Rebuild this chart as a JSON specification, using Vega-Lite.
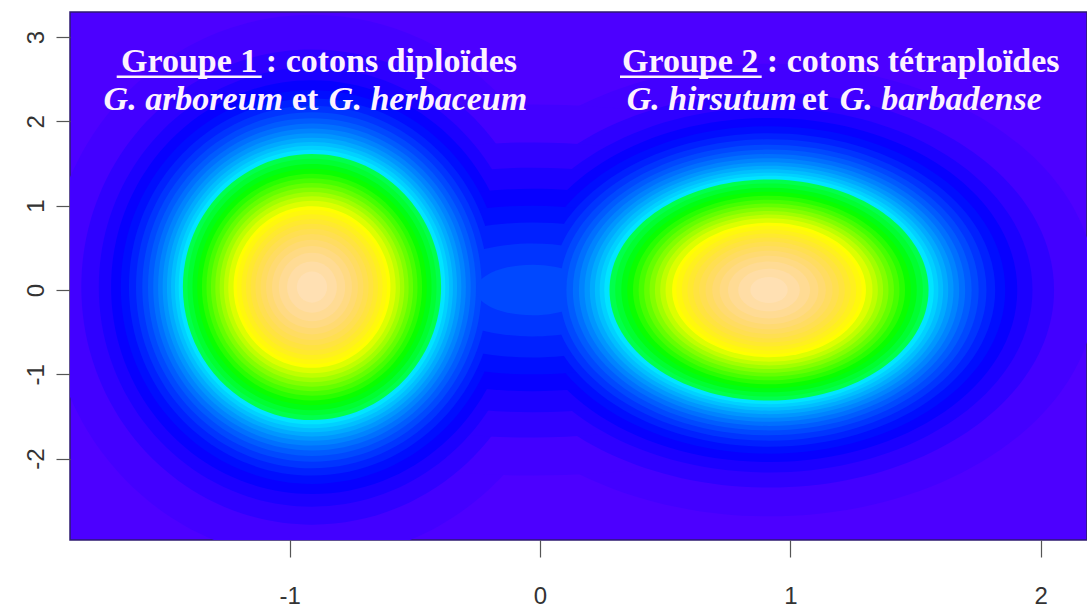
{
  "$schema": "https://vega.github.io/schema/vega-lite/v6.json",
  "width": 1017,
  "height": 528,
  "autosize": "none",
  "padding": {"left": 70, "top": 12, "right": 0, "bottom": 70},
  "background": "#ffffff",
  "view": {"fill": "#4C00FF", "stroke": "#2e1a70", "strokeWidth": 1.5},
  "datasets": {
    "niveaux": [
      {"groupe": "Groupe 1", "x": -0.911, "y": 0.035, "densite": 0.01, "demi_largeur": 1.0561},
      {"groupe": "Groupe 2", "x": 0.915, "y": 0.0, "densite": 0.01, "demi_largeur": 1.3050},
      {"groupe": "Col", "x": -0.03, "y": 0.0, "densite": 0.01, "demi_largeur": 1.647},
      {"groupe": "Groupe 1", "x": -0.911, "y": 0.035, "densite": 0.03, "demi_largeur": 0.9216},
      {"groupe": "Groupe 2", "x": 0.915, "y": 0.0, "densite": 0.03, "demi_largeur": 1.1387},
      {"groupe": "Col", "x": -0.03, "y": 0.0, "densite": 0.03, "demi_largeur": 1.310},
      {"groupe": "Groupe 1", "x": -0.911, "y": 0.035, "densite": 0.05, "demi_largeur": 0.8518},
      {"groupe": "Groupe 2", "x": 0.915, "y": 0.0, "densite": 0.05, "demi_largeur": 1.0525},
      {"groupe": "Col", "x": -0.03, "y": 0.0, "densite": 0.05, "demi_largeur": 1.085},
      {"groupe": "Groupe 1", "x": -0.911, "y": 0.035, "densite": 0.07, "demi_largeur": 0.8026},
      {"groupe": "Groupe 2", "x": 0.915, "y": 0.0, "densite": 0.07, "demi_largeur": 0.9917},
      {"groupe": "Col", "x": -0.03, "y": 0.0, "densite": 0.07, "demi_largeur": 0.898},
      {"groupe": "Groupe 1", "x": -0.911, "y": 0.035, "densite": 0.09, "demi_largeur": 0.7637},
      {"groupe": "Groupe 2", "x": 0.915, "y": 0.0, "densite": 0.09, "demi_largeur": 0.9436},
      {"groupe": "Col", "x": -0.03, "y": 0.0, "densite": 0.09, "demi_largeur": 0.749},
      {"groupe": "Groupe 1", "x": -0.911, "y": 0.035, "densite": 0.11, "demi_largeur": 0.7312},
      {"groupe": "Groupe 2", "x": 0.915, "y": 0.0, "densite": 0.11, "demi_largeur": 0.9035},
      {"groupe": "Col", "x": -0.03, "y": 0.0, "densite": 0.11, "demi_largeur": 0.599},
      {"groupe": "Groupe 1", "x": -0.911, "y": 0.035, "densite": 0.13, "demi_largeur": 0.7030},
      {"groupe": "Groupe 2", "x": 0.915, "y": 0.0, "densite": 0.13, "demi_largeur": 0.8686},
      {"groupe": "Col", "x": -0.03, "y": 0.0, "densite": 0.13, "demi_largeur": 0.412},
      {"groupe": "Groupe 1", "x": -0.911, "y": 0.035, "densite": 0.15, "demi_largeur": 0.6779},
      {"groupe": "Groupe 2", "x": 0.915, "y": 0.0, "densite": 0.15, "demi_largeur": 0.8376},
      {"groupe": "Col", "x": -0.03, "y": 0.0, "densite": 0.15, "demi_largeur": 0.225},
      {"groupe": "Groupe 1", "x": -0.911, "y": 0.035, "densite": 0.17, "demi_largeur": 0.6551},
      {"groupe": "Groupe 2", "x": 0.915, "y": 0.0, "densite": 0.17, "demi_largeur": 0.8095},
      {"groupe": "Groupe 1", "x": -0.911, "y": 0.035, "densite": 0.19, "demi_largeur": 0.6342},
      {"groupe": "Groupe 2", "x": 0.915, "y": 0.0, "densite": 0.19, "demi_largeur": 0.7837},
      {"groupe": "Groupe 1", "x": -0.911, "y": 0.035, "densite": 0.21, "demi_largeur": 0.6148},
      {"groupe": "Groupe 2", "x": 0.915, "y": 0.0, "densite": 0.21, "demi_largeur": 0.7597},
      {"groupe": "Groupe 1", "x": -0.911, "y": 0.035, "densite": 0.23, "demi_largeur": 0.5966},
      {"groupe": "Groupe 2", "x": 0.915, "y": 0.0, "densite": 0.23, "demi_largeur": 0.7372},
      {"groupe": "Groupe 1", "x": -0.911, "y": 0.035, "densite": 0.25, "demi_largeur": 0.5795},
      {"groupe": "Groupe 2", "x": 0.915, "y": 0.0, "densite": 0.25, "demi_largeur": 0.7160},
      {"groupe": "Groupe 1", "x": -0.911, "y": 0.035, "densite": 0.27, "demi_largeur": 0.5631},
      {"groupe": "Groupe 2", "x": 0.915, "y": 0.0, "densite": 0.27, "demi_largeur": 0.6958},
      {"groupe": "Groupe 1", "x": -0.911, "y": 0.035, "densite": 0.29, "demi_largeur": 0.5476},
      {"groupe": "Groupe 2", "x": 0.915, "y": 0.0, "densite": 0.29, "demi_largeur": 0.6766},
      {"groupe": "Groupe 1", "x": -0.911, "y": 0.035, "densite": 0.31, "demi_largeur": 0.5326},
      {"groupe": "Groupe 2", "x": 0.915, "y": 0.0, "densite": 0.31, "demi_largeur": 0.6581},
      {"groupe": "Groupe 1", "x": -0.911, "y": 0.035, "densite": 0.3334, "demi_largeur": 0.5158},
      {"groupe": "Groupe 2", "x": 0.915, "y": 0.0, "densite": 0.3334, "demi_largeur": 0.6373},
      {"groupe": "Groupe 1", "x": -0.911, "y": 0.035, "densite": 0.36, "demi_largeur": 0.4974},
      {"groupe": "Groupe 2", "x": 0.915, "y": 0.0, "densite": 0.36, "demi_largeur": 0.6146},
      {"groupe": "Groupe 1", "x": -0.911, "y": 0.035, "densite": 0.39, "demi_largeur": 0.4776},
      {"groupe": "Groupe 2", "x": 0.915, "y": 0.0, "densite": 0.39, "demi_largeur": 0.5901},
      {"groupe": "Groupe 1", "x": -0.911, "y": 0.035, "densite": 0.42, "demi_largeur": 0.4584},
      {"groupe": "Groupe 2", "x": 0.915, "y": 0.0, "densite": 0.42, "demi_largeur": 0.5664},
      {"groupe": "Groupe 1", "x": -0.911, "y": 0.035, "densite": 0.45, "demi_largeur": 0.4398},
      {"groupe": "Groupe 2", "x": 0.915, "y": 0.0, "densite": 0.45, "demi_largeur": 0.5434},
      {"groupe": "Groupe 1", "x": -0.911, "y": 0.035, "densite": 0.48, "demi_largeur": 0.4216},
      {"groupe": "Groupe 2", "x": 0.915, "y": 0.0, "densite": 0.48, "demi_largeur": 0.5210},
      {"groupe": "Groupe 1", "x": -0.911, "y": 0.035, "densite": 0.51, "demi_largeur": 0.4039},
      {"groupe": "Groupe 2", "x": 0.915, "y": 0.0, "densite": 0.51, "demi_largeur": 0.4990},
      {"groupe": "Groupe 1", "x": -0.911, "y": 0.035, "densite": 0.54, "demi_largeur": 0.3863},
      {"groupe": "Groupe 2", "x": 0.915, "y": 0.0, "densite": 0.54, "demi_largeur": 0.4773},
      {"groupe": "Groupe 1", "x": -0.911, "y": 0.035, "densite": 0.57, "demi_largeur": 0.3690},
      {"groupe": "Groupe 2", "x": 0.915, "y": 0.0, "densite": 0.57, "demi_largeur": 0.4559},
      {"groupe": "Groupe 1", "x": -0.911, "y": 0.035, "densite": 0.60, "demi_largeur": 0.3518},
      {"groupe": "Groupe 2", "x": 0.915, "y": 0.0, "densite": 0.60, "demi_largeur": 0.4346},
      {"groupe": "Groupe 1", "x": -0.911, "y": 0.035, "densite": 0.63, "demi_largeur": 0.3345},
      {"groupe": "Groupe 2", "x": 0.915, "y": 0.0, "densite": 0.63, "demi_largeur": 0.4134},
      {"groupe": "Groupe 1", "x": -0.911, "y": 0.035, "densite": 0.6667, "demi_largeur": 0.3134},
      {"groupe": "Groupe 2", "x": 0.915, "y": 0.0, "densite": 0.6667, "demi_largeur": 0.3872},
      {"groupe": "Groupe 1", "x": -0.911, "y": 0.035, "densite": 0.69, "demi_largeur": 0.2998},
      {"groupe": "Groupe 2", "x": 0.915, "y": 0.0, "densite": 0.69, "demi_largeur": 0.3704},
      {"groupe": "Groupe 1", "x": -0.911, "y": 0.035, "densite": 0.72, "demi_largeur": 0.2821},
      {"groupe": "Groupe 2", "x": 0.915, "y": 0.0, "densite": 0.72, "demi_largeur": 0.3486},
      {"groupe": "Groupe 1", "x": -0.911, "y": 0.035, "densite": 0.75, "demi_largeur": 0.2640},
      {"groupe": "Groupe 2", "x": 0.915, "y": 0.0, "densite": 0.75, "demi_largeur": 0.3262},
      {"groupe": "Groupe 1", "x": -0.911, "y": 0.035, "densite": 0.78, "demi_largeur": 0.2453},
      {"groupe": "Groupe 2", "x": 0.915, "y": 0.0, "densite": 0.78, "demi_largeur": 0.3031},
      {"groupe": "Groupe 1", "x": -0.911, "y": 0.035, "densite": 0.81, "demi_largeur": 0.2259},
      {"groupe": "Groupe 2", "x": 0.915, "y": 0.0, "densite": 0.81, "demi_largeur": 0.2792},
      {"groupe": "Groupe 1", "x": -0.911, "y": 0.035, "densite": 0.84, "demi_largeur": 0.2055},
      {"groupe": "Groupe 2", "x": 0.915, "y": 0.0, "densite": 0.84, "demi_largeur": 0.2539},
      {"groupe": "Groupe 1", "x": -0.911, "y": 0.035, "densite": 0.87, "demi_largeur": 0.1836},
      {"groupe": "Groupe 2", "x": 0.915, "y": 0.0, "densite": 0.87, "demi_largeur": 0.2269},
      {"groupe": "Groupe 1", "x": -0.911, "y": 0.035, "densite": 0.90, "demi_largeur": 0.1597},
      {"groupe": "Groupe 2", "x": 0.915, "y": 0.0, "densite": 0.90, "demi_largeur": 0.1974},
      {"groupe": "Groupe 1", "x": -0.911, "y": 0.035, "densite": 0.93, "demi_largeur": 0.1326},
      {"groupe": "Groupe 2", "x": 0.915, "y": 0.0, "densite": 0.93, "demi_largeur": 0.1638},
      {"groupe": "Groupe 1", "x": -0.911, "y": 0.035, "densite": 0.96, "demi_largeur": 0.0994},
      {"groupe": "Groupe 2", "x": 0.915, "y": 0.0, "densite": 0.96, "demi_largeur": 0.1229},
      {"groupe": "Groupe 1", "x": -0.911, "y": 0.035, "densite": 0.985, "demi_largeur": 0.0605},
      {"groupe": "Groupe 2", "x": 0.915, "y": 0.0, "densite": 0.985, "demi_largeur": 0.0748}
    ],
    "titres": [
      {"texte": "Groupe 1 : cotons diploïdes", "x": -0.8829, "y": 2.590},
      {"texte": "Groupe 2 : cotons tétraploïdes", "x": 1.2018, "y": 2.590},
      {"texte": "et", "x": -0.9389, "y": 2.135},
      {"texte": "et", "x": 1.0987, "y": 2.135}
    ],
    "especes": [
      {"texte": "G. arboreum", "x": -1.3851, "y": 2.135},
      {"texte": "G. herbaceum", "x": -0.4475, "y": 2.135},
      {"texte": "G. hirsutum", "x": 0.6860, "y": 2.135},
      {"texte": "G. barbadense", "x": 1.6009, "y": 2.135}
    ],
    "soulignements": [
      {"groupe": "Groupe 1", "x_debut": -1.6912, "x_fin": -1.1119, "y": 2.530},
      {"groupe": "Groupe 2", "x_debut": 0.3196, "x_fin": 0.8857, "y": 2.530}
    ]
  },
  "layer": [
    {
      "data": {"name": "niveaux"},
      "mark": {"type": "point", "filled": true, "opacity": 1, "strokeWidth": 0, "clip": true},
      "encoding": {
        "x": {
          "field": "x", "type": "quantitative",
          "scale": {"domain": [-1.8778, 2.1854], "nice": false, "zero": false},
          "axis": {"values": [-1, 0, 1, 2], "title": null, "grid": false, "domain": false,
                   "tickSize": 17, "tickColor": "#555555", "tickWidth": 1.2,
                   "labelPadding": 27, "labelFont": "Liberation Sans", "labelFontSize": 24,
                   "labelColor": "#333333", "labelExpr": "'' + datum.value"}
        },
        "y": {
          "field": "y", "type": "quantitative",
          "scale": {"domain": [-2.9656, 3.2977], "nice": false, "zero": false},
          "axis": {"values": [-2, -1, 0, 1, 2, 3], "title": null, "grid": false, "domain": false,
                   "tickSize": 14, "tickColor": "#555555", "tickWidth": 1.2,
                   "labelAngle": -90, "labelAlign": "center", "labelBaseline": "bottom",
                   "labelPadding": 8, "labelFont": "Liberation Sans", "labelFontSize": 24,
                   "labelColor": "#333333", "labelExpr": "'' + datum.value"}
        },
        "color": {
          "field": "densite", "type": "quantitative", "legend": null,
          "scale": {"domain": [0, 0.31, 0.3334, 0.64, 0.6667, 0.985],
                    "range": ["#4C00FF", "#00E5FF", "#00FF4D", "#E6FF00", "#FFFF00", "#FFE0B3"],
                    "interpolate": "hsl", "clamp": true}
        },
        "shape": {
          "field": "groupe", "type": "nominal", "legend": null,
          "scale": {"domain": ["Groupe 1", "Groupe 2", "Col"],
                    "range": ["M-1,0A1,1.03,0,1,1,1,0A1,1.03,0,1,1,-1,0Z",
                              "M-1,0A1,0.693,0,1,1,1,0A1,0.693,0,1,1,-1,0Z",
                              "M-1,0A1,0.45,0,1,1,1,0A1,0.45,0,1,1,-1,0Z"]}
        },
        "size": {
          "field": "demi_largeur", "type": "quantitative", "legend": null,
          "scale": {"type": "pow", "exponent": 2, "domain": [0, 2], "range": [0, 1002401]}
        },
        "order": {"field": "densite", "type": "quantitative"}
      }
    },
    {
      "data": {"name": "soulignements"},
      "mark": {"type": "rule", "color": "#FDF2FF", "strokeWidth": 2.5},
      "encoding": {
        "x": {"field": "x_debut", "type": "quantitative"},
        "x2": {"field": "x_fin"},
        "y": {"field": "y", "type": "quantitative"}
      }
    },
    {
      "data": {"name": "titres"},
      "mark": {"type": "text", "font": "Liberation Serif", "fontWeight": "bold", "fontSize": 34,
               "color": "#FDF2FF", "align": "center", "baseline": "alphabetic"},
      "encoding": {
        "x": {"field": "x", "type": "quantitative"},
        "y": {"field": "y", "type": "quantitative"},
        "text": {"field": "texte"}
      }
    },
    {
      "data": {"name": "especes"},
      "mark": {"type": "text", "font": "Liberation Serif", "fontWeight": "bold", "fontStyle": "italic",
               "fontSize": 34, "color": "#FDF2FF", "align": "center", "baseline": "alphabetic"},
      "encoding": {
        "x": {"field": "x", "type": "quantitative"},
        "y": {"field": "y", "type": "quantitative"},
        "text": {"field": "texte"}
      }
    }
  ]
}
